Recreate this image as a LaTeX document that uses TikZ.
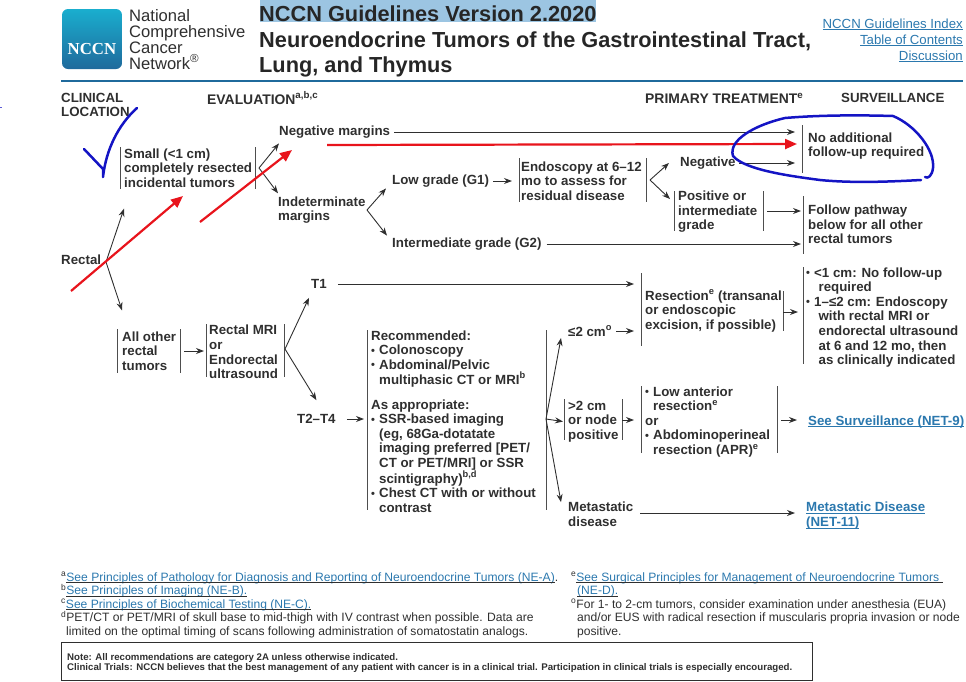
\documentclass[tikz,border=0pt]{standalone}
\usepackage{fontspec}
\setmainfont{Liberation Sans}
\newfontfamily\logofont{Liberation Serif}
\usetikzlibrary{arrows.meta}
\definecolor{inkgrey}{HTML}{2F2F2F}
\definecolor{linkblue}{HTML}{2B78AE}
\definecolor{rulebar}{HTML}{1F6A9C}
\definecolor{penblue}{HTML}{1414C4}
\definecolor{penred}{HTML}{E8141C}
\definecolor{hilite}{HTML}{9CC5E2}
\newcommand{\bul}{\makebox[8pt][l]{\raisebox{.5pt}{\fontsize{11}{11}\selectfont\textbullet}}}
\newcommand{\ind}{\hspace*{8pt}}
\newcommand{\lnk}[1]{\underline{\smash{#1}}\vphantom{Ag}}
\begin{document}
\begin{tikzpicture}[x=1pt,y=-1pt,
  txt/.style={anchor=west,inner sep=0pt,align=left,text=inkgrey,font=\fontsize{13.3}{14.55}\selectfont\bfseries},
  head/.style={anchor=west,inner sep=0pt,align=left,text=inkgrey,font=\fontsize{13.3}{14}\selectfont\bfseries},
  lnkb/.style={txt,text=linkblue},
  foot/.style={anchor=west,inner sep=0pt,align=left,text=inkgrey,font=\fontsize{12.1}{13.5}\selectfont},
  toplink/.style={anchor=east,inner sep=0pt,text=linkblue,font=\fontsize{13.2}{14}\selectfont},
  barline/.style={line width=.9pt,draw=inkgrey!85},
  arr/.style={-{Stealth[length=8pt,width=6pt]},line width=.9pt,draw=inkgrey},
  redarr/.style={-{Triangle[length=12pt,width=10pt]},line width=2.2pt,draw=penred},
  pen/.style={line width=2.5pt,draw=penblue,line cap=round,line join=round}]
\useasboundingbox (0,0) rectangle (966,681);
% Header
\node[minimum size=60pt,inner sep=0pt,rounded corners=6pt,top color=linkblue!60!cyan,bottom color=rulebar] (logo) at (92,39) {};
\node[inner sep=0pt,text=white,font=\logofont\fontsize{16.8}{16.8}\selectfont\bfseries] (logotxt) at (92,49) {NCCN};
\node[anchor=west,inner sep=0pt,align=left,text=inkgrey,font=\fontsize{16.6}{15.8}\selectfont] (network) at (129,39.5) {National\\Comprehensive\\Cancer\\Network\textsuperscript{\textregistered}};
\fill[hilite] (260,0) rectangle (596,22);
\node[anchor=west,inner sep=0pt,text=black!85,font=\fontsize{21.75}{24}\selectfont\bfseries] (title) at (259,13.5) {NCCN Guidelines Version 2.2020};
\node[anchor=west,inner sep=0pt,align=left,text=black!85,font=\fontsize{21.75}{25.5}\selectfont\bfseries] (subtitle) at (259,54.5) {Neuroendocrine Tumors of the Gastrointestinal Tract,\\Lung, and Thymus};
\node[toplink] (index) at (963,25) {\lnk{NCCN Guidelines Index}};
\node[toplink] (toc) at (963,41) {\lnk{Table of Contents}};
\node[toplink] (disc) at (963,57) {\lnk{Discussion}};
\draw[rulebar,line width=1.5pt] (61,81) -- (963,81);
\node[head] (hloc) at (61,105) {CLINICAL\\LOCATION};
\node[head,font=\fontsize{13.9}{14}\selectfont\bfseries] (heval) at (207,98) {EVALUATION\textsuperscript{a,b,c}};
\node[head,font=\fontsize{13.9}{14}\selectfont\bfseries] (hprim) at (645,98) {PRIMARY TREATMENT\textsuperscript{e}};
\node[head] (hsurv) at (841,98) {SURVEILLANCE};
% Vertical bars
\foreach \x/\a/\b in {120/147/189,255/147/189,519/158/202,646/158/202,674/191/231,763/191/231,
    802/125/173,803/196/254,117/329/373,180/329/373,206/324/377,284/324/377,367/330/510,546/330/510,
    641/273/346,783/291/331,803/267/364,564/399/440,622/399/440,641/386/453,777/386/453} {
  \draw[barline] (\x,\a) -- (\x,\b);}
% Small tumors
\node[txt] (small) at (124,168) {Small (<1 cm)\\completely resected\\incidental tumors};
\node[txt] (negm) at (279,132) {Negative margins};
\node[txt] (indm) at (278,210) {Indeterminate\\margins};
\node[txt] (low) at (392,181) {Low grade (G1)};
\node[txt] (inter) at (392,244) {Intermediate grade (G2)};
\node[txt] (endo) at (521,181) {Endoscopy at 6–12\\mo to assess for\\residual disease};
\node[txt] (neg) at (680,163) {Negative};
\node[txt] (pos) at (678,212) {Positive or\\intermediate\\grade};
\node[txt] (noadd) at (808,146) {No additional\\follow-up required};
\node[txt] (follow) at (808,224.5) {Follow pathway\\below for all other\\rectal tumors};
\coordinate (fsmall) at (259,168);
\coordinate (findm) at (367,210);
\coordinate (fendo) at (650,180);
\draw[arr] (fsmall) -- ([yshift=-5pt]negm.south west);
\draw[arr] (fsmall) -- ([yshift=3pt]indm.north west);
\draw[arr] (findm) -- ([xshift=-6pt,yshift=-1pt]low.south west);
\draw[arr] (findm) -- ([xshift=-5pt,yshift=2pt]inter.north west);
\draw[arr] (fendo) -- ([xshift=-11pt]neg.west);
\draw[arr] (fendo) -- ([xshift=-8pt,yshift=-8pt]pos.north west);
\draw[arr,shorten <=4pt,shorten >=9pt] (low.east) -- (low.east -| endo.west);
\draw[arr,shorten <=4pt,shorten >=13pt] (negm.east) -- (negm.east -| noadd.west);
\draw[arr,shorten <=3pt,shorten >=13pt] (neg.east) -- (neg.east -| noadd.west);
\draw[arr,shorten <=5pt,shorten >=7pt] (inter.east) -- (inter.east -| follow.west);
\coordinate (posr) at (767,211);
\draw[arr,shorten >=7pt] (posr) -- (posr -| follow.west);
% All other rectal tumors
\node[txt] (rectal) at (61,259.5) {Rectal};
\node[txt] (allo) at (122,351) {All other\\rectal\\tumors};
\node[txt] (mri) at (209,352) {Rectal MRI\\or\\Endorectal\\ultrasound};
\node[txt] (tone) at (311,284) {T1};
\node[txt] (ttwo) at (297,419) {T2–T4};
\node[txt] (rec) at (371,421.5) {Recommended:\\\bul Colonoscopy\\\bul Abdominal/Pelvic\\\ind multiphasic CT or MRI\textsuperscript{b}\\[10.5pt]As appropriate:\\\bul SSR-based imaging\\\ind (eg, 68Ga-dotatate\\\ind imaging preferred [PET/\\\ind CT or PET/MRI] or SSR\\\ind scintigraphy)\textsuperscript{b,d}\\\bul Chest CT with or without\\\ind contrast};
\node[txt] (letwo) at (568,331) {≤2 cm\textsuperscript{o}};
\node[txt] (gttwo) at (568,421.5) {>2 cm\\or node\\positive};
\node[txt] (met) at (568,514.5) {Metastatic\\disease};
\node[txt] (resect) at (645,311) {Resection\textsuperscript{e} (transanal\\or endoscopic\\excision, if possible)};
\node[txt] (fup) at (806,317.5) {\bul <1 cm: No follow-up\\\ind\,\,required\\\bul 1–≤2 cm: Endoscopy\\\ind\,\,with rectal MRI or\\\ind\,\,endorectal ultrasound\\\ind\,\,at 6 and 12 mo, then\\\ind\,\,as clinically indicated};
\node[txt] (lar) at (645,422) {\bul Low anterior\\\ind resection\textsuperscript{e}\\or\\\bul Abdominoperineal\\\ind resection (APR)\textsuperscript{e}};
\node[lnkb] (seesurv) at (808,422) {\lnk{See Surveillance (NET-9)}};
\node[lnkb] (metd) at (806,516) {\lnk{Metastatic Disease}\\\lnk{(NET-11)}};
\coordinate (frect) at (106,262);
\coordinate (fmri) at (285,349);
\coordinate (frec) at (546,419);
\coordinate (alloout) at (184,351);
\coordinate (gtout) at (622,420);
\coordinate (resout) at (783,312);
\coordinate (larout) at (781,420);
\coordinate (metout) at (640,513);
\draw[arr] (frect) -- ([yshift=-21pt]small.south west);
\draw[arr] (frect) -- ([yshift=21pt]allo.north west);
\draw[arr] (fmri) -- ([xshift=-2pt,yshift=-9pt]tone.south west);
\draw[arr] (fmri) -- ([yshift=14pt]ttwo.north);
\draw[arr] (frec) -- ([xshift=-7pt,yshift=-7pt]letwo.west);
\draw[arr] (frec) -- ([xshift=-5pt]gttwo.west);
\draw[arr] (frec) -- ([xshift=-7pt]met.north west);
\draw[arr,shorten >=5pt] (alloout) -- (alloout -| mri.west);
\draw[arr,shorten <=11pt,shorten >=11pt] (tone.east) -- (tone.east -| resect.west);
\draw[arr,shorten <=11pt,shorten >=7pt] (ttwo.east) -- (ttwo.east -| rec.west);
\draw[arr,shorten <=4pt,shorten >=11pt] (letwo.east) -- (letwo.east -| resect.west);
\draw[arr,shorten >=11pt] (gtout) -- (gtout -| lar.west);
\draw[arr,shorten >=8pt] (resout) -- (resout -| fup.west);
\draw[arr,shorten >=11pt] (larout) -- (larout -| seesurv.west);
\draw[arr,shorten >=11pt] (metout) -- (metout -| metd.west);
% Footnotes
\node[foot,anchor=north west] (fnleft) at (61,572) {\textsuperscript{a}\lnk{\textcolor{linkblue}{See Principles of Pathology for Diagnosis and Reporting of Neuroendocrine Tumors (NE-A)}}.\\\textsuperscript{b}\lnk{\textcolor{linkblue}{See Principles of Imaging (NE-B).}}\\\textsuperscript{c}\lnk{\textcolor{linkblue}{See Principles of Biochemical Testing (NE-C).}}\\\textsuperscript{d}PET/CT or PET/MRI of skull base to mid-thigh with IV contrast when possible. Data are\\\hspace*{5pt}limited on the optimal timing of scans following administration of somatostatin analogs.};
\node[foot,anchor=north west] (fnright) at (571,572) {\textsuperscript{e}\lnk{\textcolor{linkblue}{See Surgical Principles for Management of Neuroendocrine Tumors }}\\\hspace*{6pt}\lnk{\textcolor{linkblue}{(NE-D).}}\\\textsuperscript{o}For 1- to 2-cm tumors, consider examination under anesthesia (EUA)\\\hspace*{6pt}and/or EUS with radical resection if muscularis propria invasion or node\\\hspace*{6pt}positive.};
\draw[inkgrey,line width=1pt] (61,642.5) rectangle (812,680.5);
\node[anchor=north west,inner sep=0pt,align=left,text=inkgrey,font=\fontsize{9.67}{10.2}\selectfont\bfseries] (note) at (67,653) {Note: All recommendations are category 2A unless otherwise indicated.\\Clinical Trials: NCCN believes that the best management of any patient with cancer is in a clinical trial. Participation in clinical trials is especially encouraged.};
% Pen marks
\coordinate (ra) at (71,291);
\coordinate (rb) at (183,196);
\coordinate (rc) at (200,222);
\coordinate (rd) at (292,150);
\coordinate (re) at (327,145);
\coordinate (rf) at (797,144);
\draw[redarr] (ra) -- (rb);
\draw[redarr] (rc) -- (rd);
\draw[redarr] (re) -- (rf);
\draw[pen] (84,149) -- (103,169) -- (103,177) .. controls (106,150) and (118,125) .. (137,108);
\draw[pen] (921,180) .. controls (885,182) and (850,183) .. (820,180)
  .. controls (790,176) and (745,170) .. (733,156)
  .. controls (728,140) and (755,125) .. (785,118)
  .. controls (820,115) and (860,115) .. (893,116)
  .. controls (915,125) and (935,150) .. (933,168)
  .. controls (932,176) and (928,179) .. (925,177);
\draw[penblue!70,line width=1pt] (0,107) -- (2,107);
\end{tikzpicture}
\end{document}
